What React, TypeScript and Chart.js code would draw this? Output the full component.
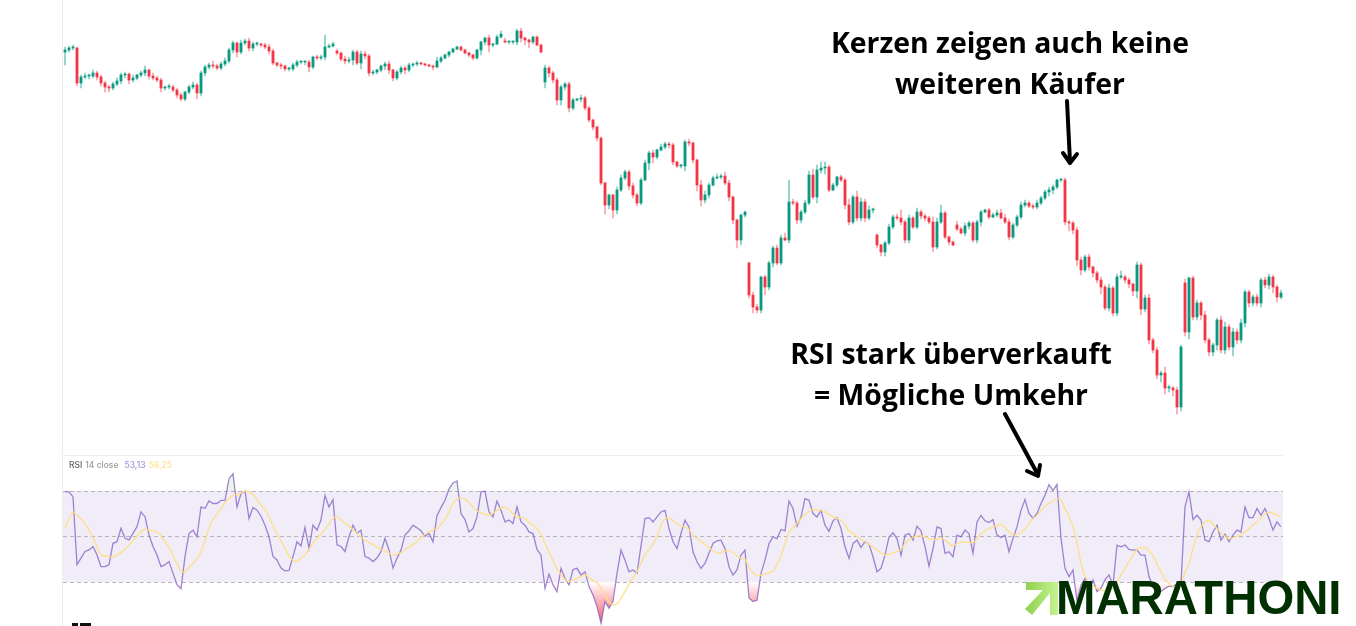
import React, { useEffect, useRef } from "react";
import { Chart, registerables } from "chart.js";

Chart.register(...registerables);

// Candles: closing price, plus the opens that do not follow the previous close
const closes = [
  576, 578, 578, 543, 549, 550, 550, 553, 549, 543, 539, 538, 542, 545, 551, 552, 546, 548, 551, 553,
  556, 550, 548, 546, 538, 539, 539, 536, 531, 527, 534, 539, 541, 533, 553, 559, 561, 560, 558, 562,
  565, 576, 583, 574, 583, 585, 578, 582, 582, 581, 579, 575, 563, 561, 560, 557, 557, 561, 564, 564,
  564, 559, 569, 568, 569, 579, 580, 582, 573, 567, 565, 566, 574, 563, 572, 570, 553, 554, 556, 560,
  562, 556, 548, 554, 558, 556, 561, 562, 563, 562, 561, 560, 559, 565, 568, 571, 574, 577, 579, 576,
  573, 571, 568, 576, 584, 588, 581, 582, 589, 592, 584, 584, 584, 595, 588, 586, 584, 589, 581, 574,
  558, 553, 546, 526, 539, 542, 518, 526, 527, 528, 518, 506, 499, 488, 443, 421, 431, 416, 436, 448,
  454, 440, 431, 423, 446, 463, 473, 469, 476, 479, 482, 481, 464, 460, 460, 484, 483, 466, 441, 426,
  431, 441, 448, 449, 450, 443, 429, 406, 386, 411, 414, 331, 319, 316, 349, 339, 363, 378, 363, 388,
  386, 424, 423, 406, 414, 423, 451, 429, 456, 458, 459, 436, 441, 449, 446, 421, 404, 429, 408, 424,
  408, 416, 416, 381, 374, 383, 399, 409, 408, 404, 386, 408, 399, 414, 410, 408, 404, 379, 404, 413,
  389, 384, 381, 397, 393, 400, 403, 386, 404, 414, 416, 409, 411, 413, 408, 404, 389, 401, 409, 421,
  423, 420, 419, 423, 428, 434, 436, 439, 446, 446, 404, 403, 396, 366, 356, 369, 359, 353, 346, 339,
  318, 338, 313, 349, 349, 346, 342, 335, 361, 317, 328, 286, 276, 251, 253, 238, 238, 236, 219, 279,
  294, 348, 309, 323, 311, 286, 274, 281, 306, 276, 299, 279, 294, 286, 303, 334, 323, 329, 323, 346,
  341, 349, 339, 329, 333,
];
const gapIndexes = [68, 110, 120, 171, 203, 223, 280];
const gapOpens = [575, 585, 544, 363, 391, 401, 343];
const wickUp = [
  3, 2, 3, 1, 2, 3, 2, 3, 2, 2, 2, 2, 2, 3, 2, 2, 1, 3, 1, 2,
  4, 1, 3, 2, 2, 1, 3, 2, 2, 2, 1, 2, 3, 2, 2, 2, 2, 4, 2, 2,
  3, 2, 2, 1, 3, 2, 3, 2, 2, 1, 2, 3, 2, 1, 2, 1, 2, 2, 2, 1,
  1, 2, 1, 2, 2, 12, 2, 2, 2, 1, 3, 3, 2, 2, 3, 3, 2, 2, 1, 1,
  2, 3, 1, 2, 2, 2, 2, 1, 2, 1, 1, 1, 1, 4, 2, 1, 1, 1, 1, 1,
  1, 1, 1, 1, 1, 1, 3, 1, 2, 3, 3, 1, 1, 2, 3, 1, 1, 1, 1, 1,
  3, 2, 2, 2, 2, 2, 2, 2, 1, 3, 2, 2, 1, 1, 1, 1, 1, 1, 3, 3,
  2, 2, 3, 2, 2, 3, 2, 3, 1, 3, 2, 2, 2, 1, 2, 2, 3, 1, 1, 5,
  4, 2, 2, 3, 2, 4, 3, 1, 1, 1, 1, 1, 3, 3, 1, 2, 2, 2, 3, 3,
  5, 22, 3, 2, 2, 3, 4, 6, 5, 6, 5, 2, 2, 1, 2, 2, 6, 2, 6, 4,
  3, 4, 2, 1, 1, 2, 3, 2, 3, 8, 2, 3, 2, 4, 2, 2, 2, 5, 4, 8,
  2, 1, 1, 4, 2, 3, 2, 2, 2, 2, 1, 2, 2, 3, 4, 4, 3, 2, 2, 3,
  3, 2, 2, 3, 2, 2, 3, 2, 1, 1, 2, 2, 2, 3, 3, 2, 3, 1, 2, 3,
  2, 4, 2, 3, 6, 2, 2, 1, 3, 2, 3, 4, 2, 3, 2, 6, 3, 2, 3, 2,
  4, 1, 2, 3, 2, 4, 2, 2, 2, 4, 5, 3, 4, 3, 4, 2, 2, 2, 3, 2,
  3, 3, 2, 2, 3,
];
const wickDown = [
  13, 2, 2, 3, 5, 2, 3, 2, 3, 3, 5, 4, 2, 2, 3, 3, 4, 2, 2, 2,
  3, 3, 2, 2, 4, 2, 2, 2, 3, 2, 2, 2, 2, 6, 3, 3, 2, 2, 2, 2,
  2, 2, 3, 5, 2, 2, 3, 3, 2, 2, 2, 3, 2, 2, 3, 2, 2, 2, 2, 2,
  3, 5, 2, 2, 2, 3, 1, 1, 2, 2, 3, 2, 5, 2, 6, 3, 3, 2, 2, 2,
  4, 4, 3, 2, 2, 4, 2, 2, 2, 1, 1, 1, 3, 1, 2, 1, 2, 1, 1, 1,
  1, 2, 2, 1, 5, 3, 7, 2, 1, 1, 1, 2, 2, 3, 4, 5, 6, 2, 1, 1,
  6, 4, 3, 5, 5, 3, 4, 2, 1, 3, 2, 2, 3, 3, 2, 9, 4, 8, 4, 2,
  2, 4, 3, 3, 2, 1, 7, 6, 2, 1, 2, 3, 3, 2, 2, 5, 3, 3, 6, 6,
  3, 3, 1, 1, 2, 2, 4, 4, 8, 5, 2, 3, 6, 3, 3, 8, 3, 4, 2, 2,
  1, 3, 2, 4, 3, 2, 2, 2, 6, 3, 6, 2, 1, 2, 2, 4, 3, 2, 3, 3,
  4, 2, 3, 3, 4, 4, 2, 2, 2, 3, 3, 3, 2, 2, 3, 3, 2, 5, 2, 2,
  2, 3, 1, 2, 1, 3, 3, 2, 3, 4, 1, 2, 1, 2, 1, 2, 3, 2, 2, 2,
  2, 2, 2, 2, 2, 2, 4, 4, 2, 2, 3, 8, 4, 6, 5, 2, 3, 4, 3, 7,
  2, 3, 3, 3, 2, 3, 4, 5, 7, 6, 3, 4, 3, 4, 7, 6, 4, 6, 7, 4,
  4, 7, 3, 3, 5, 3, 4, 4, 5, 3, 4, 3, 9, 4, 3, 4, 4, 3, 3, 4,
  3, 4, 6, 5, 2,
];

// RSI pane: RSI(14) and its moving average
const rsiValues = [
  69.7, 69.6, 67.4, 37.6, 40.5, 43.4, 44.1, 45.6, 41.9, 36.8, 36.8, 37.6, 47, 47.7, 53.6, 49.2, 48.5, 51.4, 54.3, 60.8,
  58.7, 50.7, 45.6, 41.9, 36.8, 37.6, 39, 33.9, 28.8, 27, 41.2, 51.4, 52.8, 49.9, 63, 62.3, 65.6, 64.5, 64.5, 65.9,
  65.9, 75.4, 77.6, 63, 68.8, 70, 57.9, 62.7, 61.6, 58.9, 55, 49.9, 41.2, 39.7, 36.1, 34.9, 35.1, 41.2, 47.7, 45.9,
  54, 44.8, 55, 52.8, 57.2, 68.1, 63, 66.2, 46.3, 45.6, 43.4, 49.9, 55, 51.4, 52.8, 41.2, 40.5, 39, 40.5, 43.4,
  49.2, 44.1, 36.1, 40.5,
  44, 50.6, 52.5, 55, 53.8, 52.5, 50.1, 51.3, 47.7, 59.3, 62.7, 65.9, 71, 73.5, 74.4, 60.1, 57.4, 52, 53.5, 58.6,
  69.6, 69.9, 60.8, 58.6, 65.6, 61.5, 56.4, 57.2, 55.7, 63, 56.4, 55, 52, 51.3, 44.3, 41.8, 27.2, 33.5, 28.7, 25.8,
  36, 31.6, 28.7, 35.5, 36, 33.1, 34.5, 28, 24.3, 19.2, 11.9, 21.4, 18.5, 21.4, 33.8, 44, 39.6, 34.5, 35.3, 33.8,
  45.9, 57.9, 58.3, 56.4, 58.6, 60.8, 61.5, 53.5, 47.7, 44.7, 51.3, 57.2, 54.2, 43.3, 38.9, 36, 38.2, 42.6, 46.9, 48.1,
  48.4, 44.7, 36.7, 33.1, 35.3,
  41.8, 44, 23, 21.4, 22, 33.8, 39.6, 46.9, 49.8, 49.1, 53.1, 52.5, 65.6, 62.3, 54.5, 58.6, 66.6, 65.9, 60.1, 58.6,
  61.5, 55, 52.3, 56.9, 58.2, 53.5, 45.5, 40.4, 46.9, 48.4, 45.2, 47.7, 46.6, 41.1, 34.5, 36, 41.8, 49.8, 51.6, 49.1,
  41.8, 50.6, 51.3, 48.4, 54.5, 52.5, 45.5, 37, 44.7, 54.2, 53.5, 42.6, 43.3, 41.1, 50.6, 49.8, 52.8, 51.3, 42.6, 56.4,
  59.3, 56.9, 56.1, 57.4, 50.6, 49.6, 50.6, 43.3, 49.1, 54.2, 61.5, 66.2, 60.1, 57.9, 60.1,
  64.5, 68.1, 72.8, 70.3, 72.9, 49.1, 36, 32.4, 35.3, 21.4, 28.7, 31.6, 26.5, 30.9, 25.8, 27.2, 30.9, 33.1, 28.7, 46.2,
  45.5, 46.2, 44.3, 44, 44, 41.8, 41.8, 32.4, 28, 25, 25.8, 27.2, 28.2, 28, 29.2, 29.5, 63, 69.6, 57.4, 59.3,
  57.2, 48.4, 47.7, 52, 55, 48.4, 51, 47.7, 50.6, 52.8, 52, 63, 58.3, 58.3, 62.3, 59.3, 62.3, 57.9, 52.8, 56.4,
  54.2,
];
const rsiAverage = [
  53.6, 57.9, 60.8, 59.4, 57.9, 55.7, 52.8, 49.6, 45.6, 41.9, 41.5, 41.2, 40.9, 41.8, 42.9, 44.4, 46.1, 48.2, 50.2, 52.1,
  53.1, 52.7, 52.4, 52, 50.2, 47.9, 45.3, 41.5, 38, 35.1, 34.4, 36.5, 38.3, 40.3, 43.4, 48.2, 53.6, 57.5, 59.8, 62.3,
  64.9, 66.7, 68.1, 68.4, 69.1, 69.9, 69.6, 68.5, 66.4, 63.7, 61.9, 58.7, 54.6, 51.4, 48.2, 44.8, 41.5, 39.5, 39, 40.5,
  41.9, 44.4, 47, 49.2, 51.1, 53.1, 55.5, 57.9, 58.7, 57.2, 55.7, 54.6, 52.8, 51.7, 49.6, 48.5, 47.3, 46.4, 45.3, 44.4,
  43.7, 42.7, 41.8, 42.4,
  42.8, 44.3, 45.5, 46.5, 47.7, 49.6, 51, 52.2, 52.8, 53.5, 55.4, 57.4, 60.8, 64.5, 66.4, 67.1, 66.4, 64.9, 63, 61.2,
  60.4, 59.9, 59.3, 60.4, 61.5, 62.6, 62.8, 61.8, 60.1, 58.6, 58.5, 57.9, 56.3, 55, 53.5, 51, 46.9, 43.3, 39.6, 35.7,
  33.1, 31.2, 30.1, 30.9, 31.6, 32.4, 33.1, 32, 30.6, 29.9, 27.2, 24.3, 21.4, 19.9, 20.4, 22.8, 25.8, 29.1, 32, 34.5,
  38.2, 41.8, 44.3, 46.9, 49.8, 55, 57.6, 58.2, 56.9, 55.7, 54.7, 54.2, 53.1, 50.6, 49.1, 47.7, 46.6, 45.2, 43.7, 42.8,
  43, 43.7, 43.9, 43, 41.5,
  40.4, 40, 36.4, 34.1, 32.6, 33.1, 33.5, 34.1, 34.7, 37.9, 41.8, 46.9, 52, 53.8, 55.7, 57.9, 59.6, 61.2, 61.8, 61.7,
  61.4, 60.8, 59.6, 58.6, 57.9, 57.2, 55, 52.5, 51.3, 50.1, 48.7, 47.8, 46.6, 45.5, 44, 42.8, 41.8, 42.3, 42.8, 43.4,
  44.3, 46.9, 48.7, 49.6, 50.3, 50.3, 49.8, 49, 48.7, 48.7, 49.4, 48.4, 46.9, 45.9, 46.9, 47.5, 47.5, 47.4, 47.2, 49.1,
  51.3, 52.5, 53.5, 54.1, 54.7, 55.4, 53.9, 52, 50.9, 50.9, 51.8, 53.5, 55.7, 57.9, 59.3,
  61.5, 63.3, 64.5, 65.6, 66.6, 65.9, 62.3, 58.6, 54.2, 46.9, 38.2, 32.6, 29.7, 28.2, 27.2, 26.5, 26, 26.2, 27.2, 30.1,
  33.1, 36, 38.9, 41.8, 44.3, 45.2, 45, 43.7, 41.4, 37.9, 34.5, 31.2, 29.4, 28, 27.2, 28.7, 34.5, 38.2, 44.7, 50.6,
  54.2, 56.4, 57.2, 55.4, 53.5, 51.6, 50.1, 49.1, 49.4, 50.1, 51, 52, 53.5, 55, 56.4, 58.3, 59.8, 60.8, 60.1, 59.5,
  58.9,
];
const rsiLevels = [70, 50, 30];
const legendParts = ["RSI", "14 close", "53,13", "58,25"];
const noteTop = ["Kerzen zeigen auch keine", "weiteren Käufer"];
const noteBottom = ["RSI stark überverkauft", "= Mögliche Umkehr"];
const logoName = "MARATHONI";

const GREEN = "#089981";
const RED = "#f23645";
const GREEN_WICK = "rgba(8,153,129,0.5)";
const RED_WICK = "rgba(242,54,69,0.45)";

const paneBorderPrice = 171;

const panePlugin = {
  id: "pane",
  beforeDatasetsDraw(chart: any) {
    const { ctx, chartArea: a, scales } = chart;
    const r = scales.rsi;
    ctx.save();
    ctx.fillStyle = "rgba(126,87,194,0.115)";
    const top = r.getPixelForValue(rsiLevels[0]);
    const bottom = r.getPixelForValue(rsiLevels[2]);
    ctx.fillRect(a.left, top, a.right - a.left, bottom - top);
    ctx.strokeStyle = "#eeeeee";
    ctx.lineWidth = 1;
    ctx.beginPath();
    ctx.moveTo(a.left - 0.5, 0);
    ctx.lineTo(a.left - 0.5, 626);
    const by = Math.round(scales.y.getPixelForValue(paneBorderPrice)) + 0.5;
    ctx.moveTo(a.left, by);
    ctx.lineTo(a.right, by);
    ctx.stroke();
    ctx.strokeStyle = "#b8b4bd";
    ctx.setLineDash([4, 3]);
    rsiLevels.forEach((l) => {
      const y = Math.round(r.getPixelForValue(l)) + 0.5;
      ctx.beginPath();
      ctx.moveTo(a.left, y);
      ctx.lineTo(a.right, y);
      ctx.stroke();
    });
    ctx.setLineDash([]);
    // legend
    ctx.textBaseline = "middle";
    ctx.font = "500 8.5px Inter, 'Noto Sans', sans-serif";
    const colors = ["#666666", "#9a9a9a", "#a08fd6", "#ffe08a"];
    const gaps = [3, 6, 3, 0];
    let x = a.left + 6;
    const ly = by + 10;
    legendParts.forEach((t, i) => {
      ctx.fillStyle = colors[i];
      ctx.fillText(t, x, ly);
      x += ctx.measureText(t).width + gaps[i];
    });
    // the clipped logo mark at the bottom-left edge
    ctx.fillStyle = "#111111";
    ctx.fillRect(a.left + 9, 623, 6, 3);
    ctx.fillRect(a.left + 17, 623, 11, 3);
    ctx.restore();
  },
};

export default function App() {
  const ref = useRef<HTMLCanvasElement>(null);

  useEffect(() => {
    document.body.style.margin = "0";
    const canvas = ref.current!;
    const labels = closes.map((_, i) => String(i));
    const gapMap = new Map(gapIndexes.map((g, i) => [g, gapOpens[i]]));
    const opens = closes.map((c, i) =>
      gapMap.has(i) ? (gapMap.get(i) as number) : i === 0 ? c - 2 : closes[i - 1]
    );
    const up = closes.map((c, i) => c >= opens[i]);

    const ctx2 = canvas.getContext("2d")!;
    const oversold = ctx2.createLinearGradient(0, 582, 0, 626);
    oversold.addColorStop(0, "rgba(255,255,255,0.9)");
    oversold.addColorStop(1, "rgba(242,54,69,0.85)");

    const chart = new Chart(canvas, {
      type: "bar",
      plugins: [panePlugin],
      data: {
        labels,
        datasets: [
          {
            type: "line",
            data: rsiValues,
            yAxisID: "rsi",
            borderColor: "rgba(126,87,194,0)",
            borderWidth: 0,
            pointRadius: 0,
            fill: { target: { value: rsiLevels[2] }, above: "rgba(0,0,0,0)", below: oversold },
            order: 5,
          } as any,
          {
            type: "line",
            data: rsiValues,
            yAxisID: "rsi",
            borderColor: "rgba(0,0,0,0)",
            borderWidth: 0,
            pointRadius: 0,
            fill: { target: { value: rsiLevels[0] }, above: "rgba(76,175,80,0.12)", below: "rgba(0,0,0,0)" },
            order: 5,
          } as any,
          {
            type: "line",
            data: rsiValues,
            yAxisID: "rsi",
            borderColor: "rgba(126,87,194,0.72)",
            borderWidth: 1.3,
            pointRadius: 0,
            tension: 0,
            order: 3,
          } as any,
          {
            type: "line",
            data: rsiAverage,
            yAxisID: "rsi",
            borderColor: "#ffdf85",
            borderWidth: 1.3,
            pointRadius: 0,
            tension: 0.3,
            order: 2,
          } as any,
          {
            type: "bar",
            data: closes.map((c, i) => [
              Math.min(c, opens[i]) - wickDown[i],
              Math.max(c, opens[i]) + wickUp[i],
            ]),
            yAxisID: "y",
            backgroundColor: up.map((u) => (u ? GREEN_WICK : RED_WICK)),
            barThickness: 1,
            grouped: false,
            order: 4,
          } as any,
          {
            type: "bar",
            data: closes.map((c, i) => [opens[i], c]),
            yAxisID: "y",
            backgroundColor: up.map((u) => (u ? GREEN : RED)),
            barThickness: 2.2,
            minBarLength: 1,
            grouped: false,
            order: 1,
          } as any,
        ],
      },
      options: {
        animation: false,
        responsive: false,
        events: [],
        layout: { padding: { left: 63, right: 73, top: 0, bottom: 0 } },
        plugins: { legend: { display: false }, tooltip: { enabled: false } },
        scales: {
          x: { display: false, grid: { display: false } },
          y: { display: false, min: 0, max: 626 },
          rsi: { display: false, min: 10.66, max: 285.8, position: "right" },
        },
      },
    });
    return () => chart.destroy();
  }, []);

  const noteStyle: React.CSSProperties = {
    position: "absolute",
    fontFamily: "'Open Sans', 'Noto Sans', sans-serif",
    fontWeight: 700,
    fontSize: 28.4,
    lineHeight: "41px",
    color: "#000",
    textAlign: "center",
    whiteSpace: "pre",
    transform: "translateX(-50%)",
  };

  return (
    <div style={{ position: "relative", width: 1356, height: 626, overflow: "hidden", background: "#fff" }}>
      <canvas
        ref={ref}
        width={1356}
        height={626}
        style={{ position: "absolute", left: 0, top: 0, width: 1356, height: 626, filter: "blur(0.55px)" }}
      />
      <div style={{ ...noteStyle, left: 1010, top: 22 }}>{noteTop.join("\n")}</div>
      <div style={{ ...noteStyle, left: 951, top: 333 }}>{noteBottom.join("\n")}</div>
      <svg width={1356} height={626} style={{ position: "absolute", left: 0, top: 0 }}>
        <defs>
          <linearGradient id="logoArrow" x1="0" x2="1" y1="0" y2="0">
            <stop offset="0" stopColor="#8fd14f" />
            <stop offset="1" stopColor="#c6f391" />
          </linearGradient>
        </defs>
        <g stroke="#000" strokeWidth={4} strokeLinecap="round" strokeLinejoin="round" fill="none">
          <path d="M1067 101 L1070 162" />
          <path d="M1063 153 L1070 163 L1077 154" />
          <path d="M1005 414 L1037 473" />
          <path d="M1027 471 L1038 476 L1040 465" />
        </g>
        <path
          d="M1026 582 H1058 V615 H1050 V593 L1032 615 L1025 609 L1043 590 H1026 Z"
          fill="url(#logoArrow)"
        />
      </svg>
      <div
        style={{
          position: "absolute",
          left: 1056,
          top: 571,
          fontFamily: "'Liberation Sans', Arial, sans-serif",
          fontWeight: 700,
          fontSize: 47.3,
          lineHeight: "54px",
          color: "#002f00",
          whiteSpace: "pre",
        }}
      >
        {logoName}
      </div>
    </div>
  );
}
